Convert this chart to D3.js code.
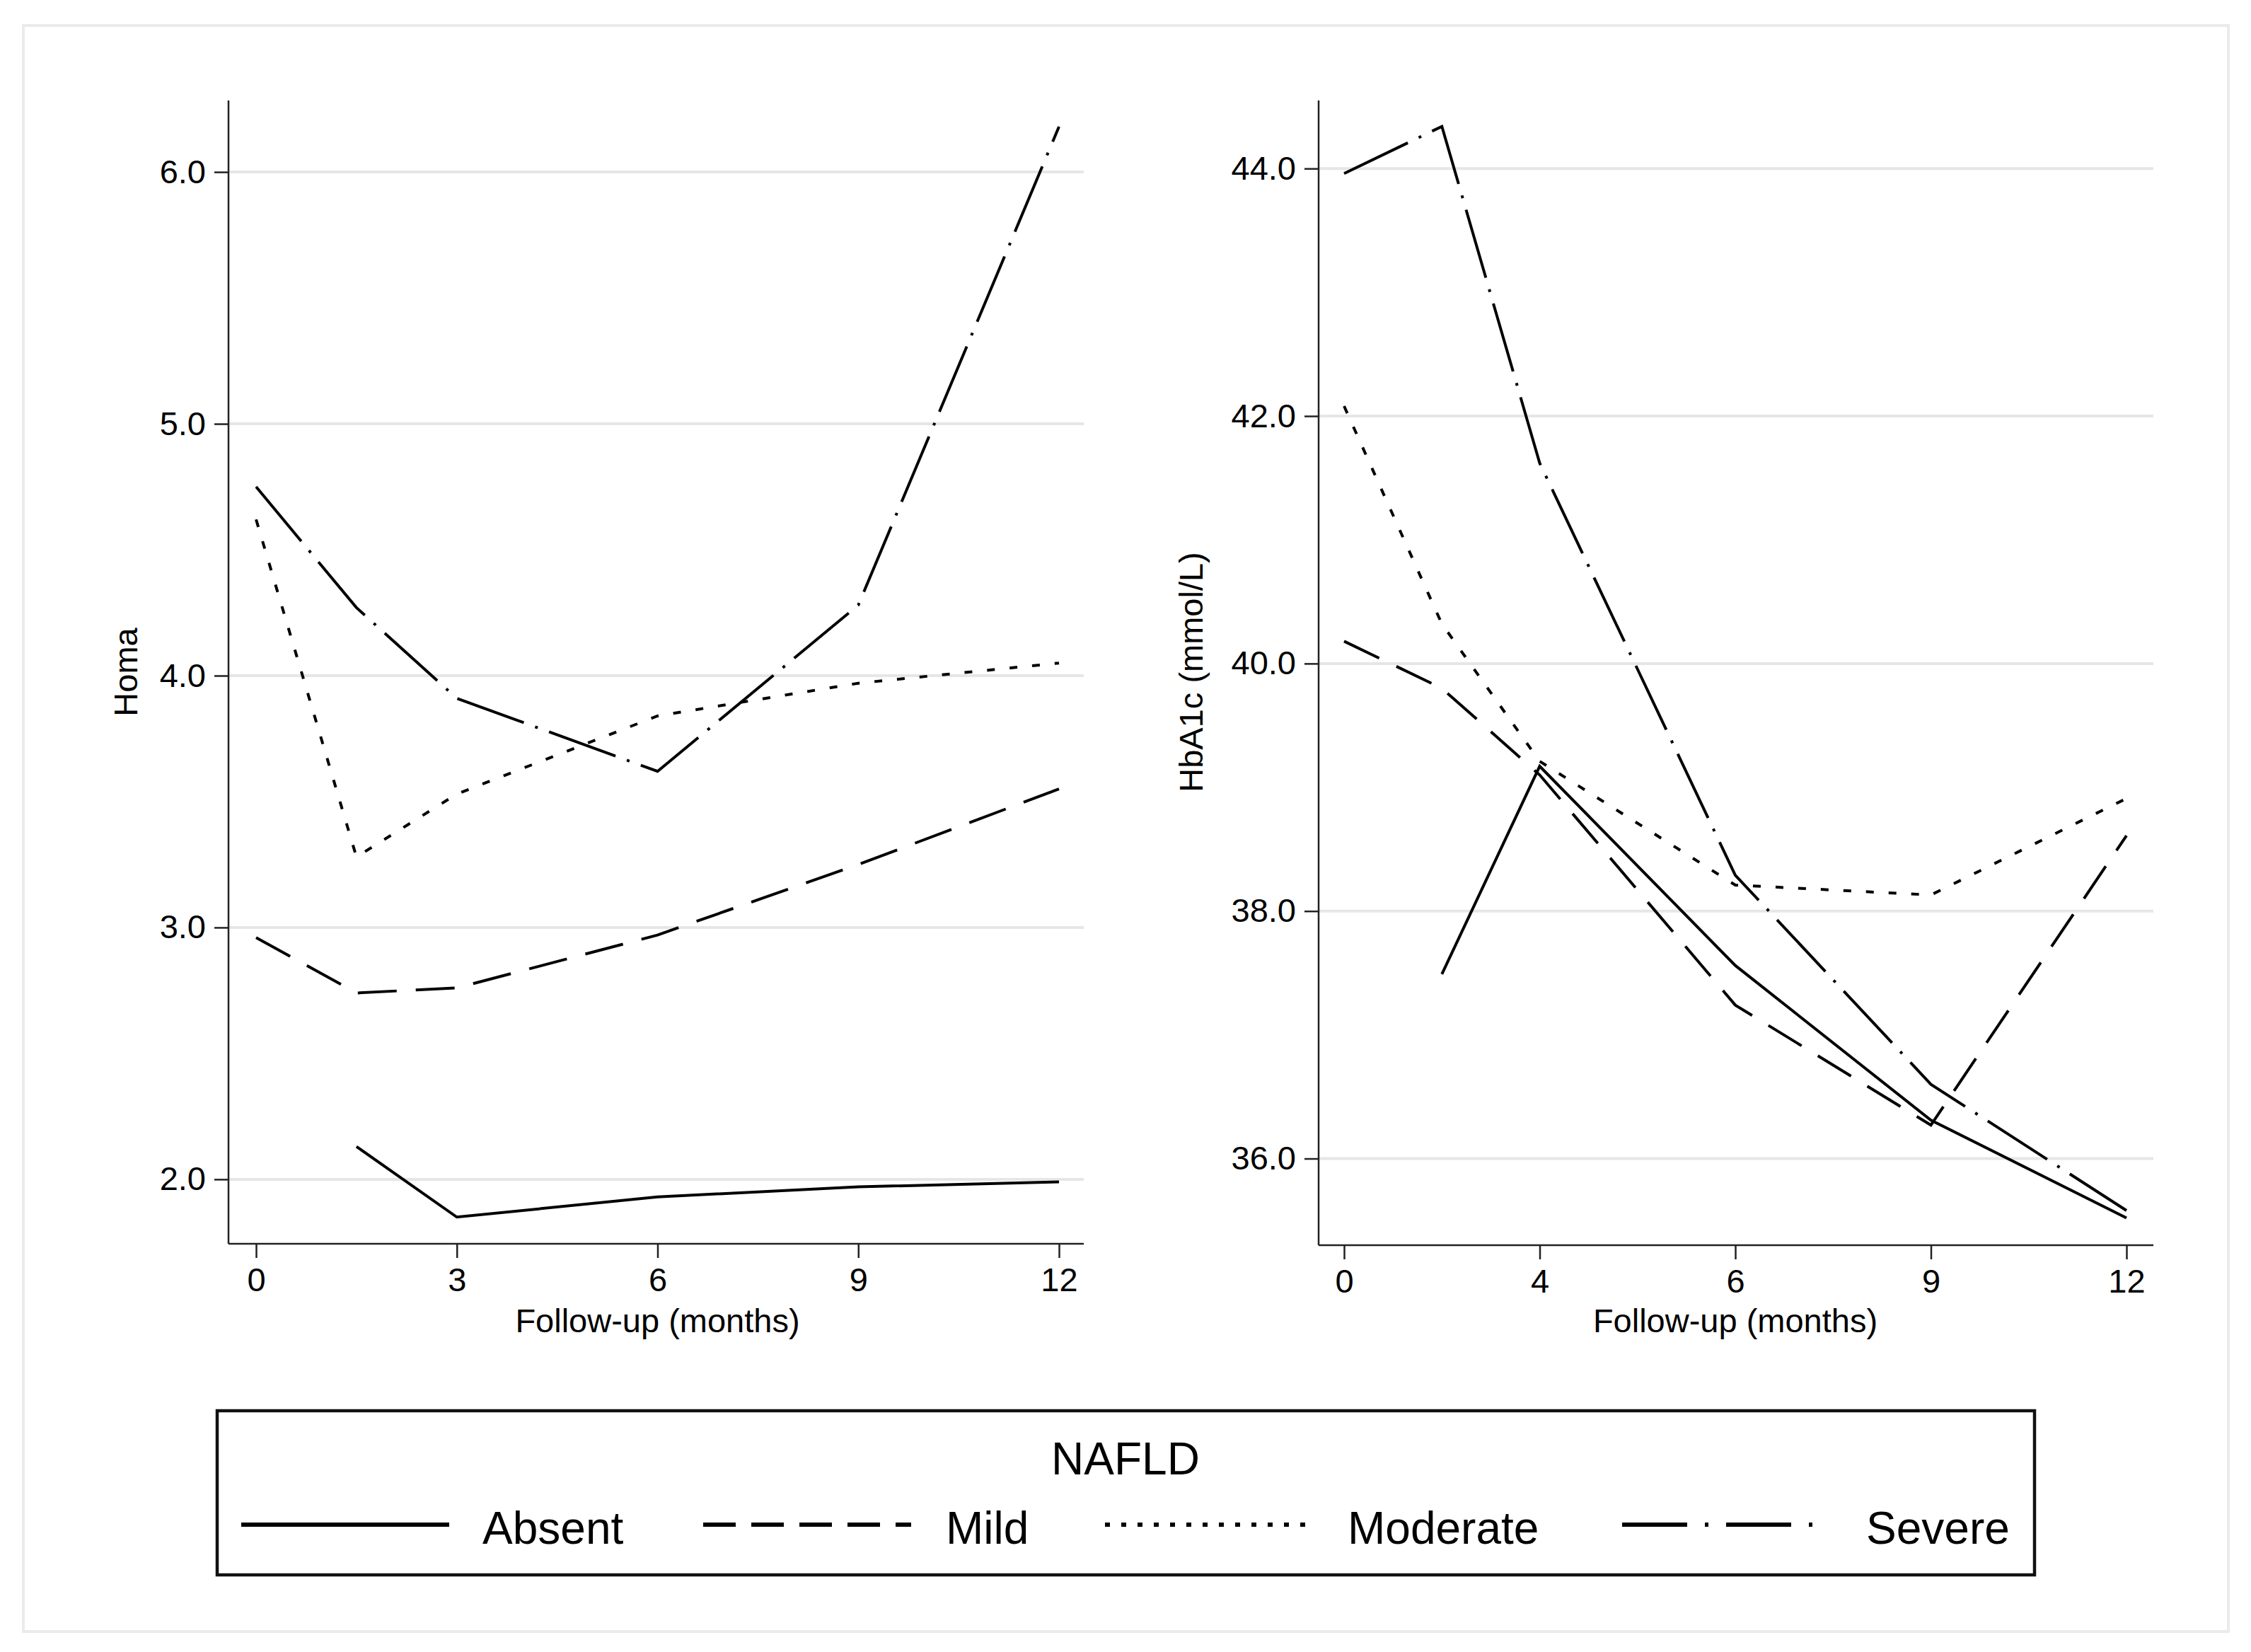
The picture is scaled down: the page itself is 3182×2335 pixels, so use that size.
<!DOCTYPE html>
<html>
<head>
<meta charset="utf-8">
<script src="https://cdn.jsdelivr.net/npm/d3@7"></script>
<style>
  body { margin: 0; background: #fff; }
  text { font-family: "Liberation Sans", Arial, sans-serif; fill: #000; }
</style>
</head>
<body>
<svg id="chart" width="3182" height="2335"></svg>
<script>
// x positions are visit index (ticks sit at 0..4, the second visit falls halfway)
const visitIndex = [0, 0.5, 1, 2, 3, 4];
const tickIndex = [0, 1, 2, 3, 4];
const homaTickLabels = ["0", "3", "6", "9", "12"];
const hba1cTickLabels = ["0", "4", "6", "9", "12"];
const homaYTicks = [2, 3, 4, 5, 6];
const hba1cYTicks = [36, 38, 40, 42, 44];

const groups = ["Absent", "Mild", "Moderate", "Severe"];

// Homa
const homaAbsent   = [null, 2.13, 1.85, 1.93, 1.97, 1.99];
const homaMild     = [2.96, 2.74, 2.76, 2.97, 3.25, 3.55];
const homaModerate = [4.62, 3.28, 3.53, 3.84, 3.97, 4.05];
const homaSevere   = [4.75, 4.27, 3.91, 3.62, 4.28, 6.18];

// HbA1c (mmol/L)
const hba1cAbsent   = [null, 37.49, 39.17, 37.56, 36.31, 35.52];
const hba1cMild     = [40.18, 39.80, 39.10, 37.24, 36.27, 38.61];
const hba1cModerate = [42.08, 40.32, 39.21, 38.21, 38.13, 38.91];
const hba1cSevere   = [43.96, 44.34, 41.62, 38.29, 36.60, 35.58];

const svg = d3.select("#chart");
const font = "'Liberation Sans', Arial, sans-serif";

// line patterns: plot and legend
const plotDash = {Absent: null, Mild: "55,27", Moderate: "11,21", Severe: "100,17,4,17"};
const legDash = {Absent: null, Mild: "46,22", Moderate: "7,16", Severe: "92,25,5,25"};

// outer light frame
svg.append("rect").attr("x", 33).attr("y", 36).attr("width", 3117).attr("height", 2270)
  .attr("fill", "#fff").attr("stroke", "#ebebeb").attr("stroke-width", 4);

function drawPanel(opt) {
  const g = svg.append("g");
  const x = d3.scaleLinear().domain([0, 4]).range([opt.x0, opt.x1]);
  const y = d3.scaleLinear().domain(opt.yDomain).range([opt.bottom, opt.top]);

  // gridlines
  g.selectAll(".grid").data(opt.yTicks).enter().append("line")
    .attr("x1", opt.axisX).attr("x2", opt.endX)
    .attr("y1", d => y(d)).attr("y2", d => y(d))
    .attr("stroke", "#e6e6e6").attr("stroke-width", 4);

  // y axis
  const ya = g.append("g").attr("transform", `translate(${opt.axisX},0)`)
    .call(d3.axisLeft(y).tickValues(opt.yTicks).tickSize(20).tickSizeOuter(0)
      .tickPadding(12).tickFormat(d3.format(".1f")));
  ya.select(".domain").remove();
  ya.selectAll(".tick line").attr("stroke", "#222").attr("stroke-width", 2.5);
  ya.selectAll(".tick text").attr("font-size", 47).attr("font-family", font).attr("fill", "#000");
  g.append("line").attr("x1", opt.axisX).attr("x2", opt.axisX)
    .attr("y1", opt.top).attr("y2", opt.bottom).attr("stroke", "#222").attr("stroke-width", 2.5);

  // x axis
  const xa = g.append("g").attr("transform", `translate(0,${opt.bottom})`)
    .call(d3.axisBottom(x).tickValues(tickIndex).tickSize(20).tickSizeOuter(0)
      .tickPadding(14).tickFormat((d, i) => opt.xLabels[i]));
  xa.select(".domain").remove();
  xa.selectAll(".tick line").attr("stroke", "#222").attr("stroke-width", 2.5);
  xa.selectAll(".tick text").attr("font-size", 47).attr("font-family", font).attr("fill", "#000");
  g.append("line").attr("x1", opt.axisX).attr("x2", opt.endX)
    .attr("y1", opt.bottom).attr("y2", opt.bottom).attr("stroke", "#222").attr("stroke-width", 2.5);

  // titles
  g.append("text").attr("x", (opt.x0 + opt.x1) / 2).attr("y", 1883)
    .attr("text-anchor", "middle").attr("font-size", 47).text("Follow-up (months)");
  g.append("text").attr("transform", `translate(${opt.titleX},950) rotate(-90)`)
    .attr("text-anchor", "middle").attr("font-size", 47).text(opt.yTitle);

  // lines
  const line = d3.line()
    .defined(d => d.v != null)
    .x(d => x(d.i)).y(d => y(d.v));
  opt.series.forEach((vals, k) => {
    const pts = visitIndex.map((i, j) => ({i: i, v: vals[j]}));
    g.append("path").datum(pts).attr("d", line)
      .attr("fill", "none").attr("stroke", "#000").attr("stroke-width", 4)
      .attr("stroke-linejoin", "miter")
      .attr("stroke-dasharray", plotDash[groups[k]]);
  });
}

drawPanel({
  axisX: 323, endX: 1532, x0: 362, x1: 1497, top: 142, bottom: 1758,
  yDomain: [1.744, 6.284], yTicks: homaYTicks, xLabels: homaTickLabels,
  yTitle: "Homa", titleX: 194,
  series: [homaAbsent, homaMild, homaModerate, homaSevere]
});

drawPanel({
  axisX: 1864, endX: 3044, x0: 1900, x1: 3006, top: 142, bottom: 1760,
  yDomain: [35.30, 44.55], yTicks: hba1cYTicks, xLabels: hba1cTickLabels,
  yTitle: "HbA1c (mmol/L)", titleX: 1700,
  series: [hba1cAbsent, hba1cMild, hba1cModerate, hba1cSevere]
});

// legend
const leg = svg.append("g");
leg.append("rect").attr("x", 307).attr("y", 1994).attr("width", 2569).attr("height", 232)
  .attr("fill", "#fff").attr("stroke", "#111").attr("stroke-width", 4.5);
leg.append("text").attr("x", 1591).attr("y", 2084).attr("text-anchor", "middle")
  .attr("font-size", 64).text("NAFLD");

const legLineX = [341, 994, 1562, 2293];
const legTextX = [682, 1337, 1905, 2638];
groups.forEach((name, k) => {
  leg.append("line").attr("x1", legLineX[k]).attr("x2", legLineX[k] + 294)
    .attr("y1", 2155).attr("y2", 2155)
    .attr("stroke", "#000").attr("stroke-width", 6)
    .attr("stroke-dasharray", legDash[name]);
  leg.append("text").attr("x", legTextX[k]).attr("y", 2182)
    .attr("font-size", 64).text(name);
});
</script>
</body>
</html>
